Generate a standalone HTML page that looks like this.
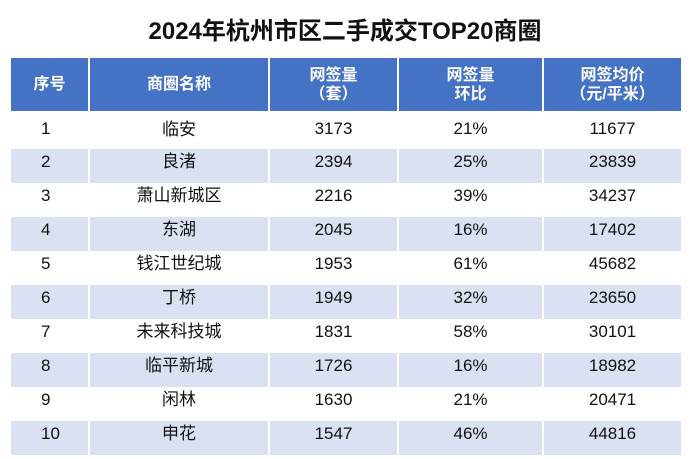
<!DOCTYPE html><html><head><meta charset="utf-8"><style>
body{margin:0;width:690px;height:459px;background:#fff;font-family:"Liberation Sans","Noto Sans CJK SC",sans-serif;overflow:hidden;position:relative}
.t{position:absolute;top:11px;left:0;width:690px;text-align:center;font-size:24px;font-weight:bold;color:#111}
table{position:absolute;left:9px;top:58px;border-collapse:collapse;table-layout:fixed}
td,th{padding:0;text-align:center;border-left:2px solid #fff;border-right:2px solid #fff}
th{background:#4472C4;color:#fff;font-size:16px;font-weight:bold;height:53px;line-height:19px}
td{font-size:17px;color:#111;height:34px;line-height:26px;vertical-align:top}
tr.s td{background:#D9E1F2}
</style></head><body>
<div class="t">2024年杭州市区二手成交TOP20商圈</div>
<table>
<colgroup><col style="width:79px"><col style="width:180px"><col style="width:129px"><col style="width:145px"><col style="width:139px"></colgroup>
<tr><th>序号</th><th>商圈名称</th><th>网签量<br>（套）</th><th>网签量<br>环比</th><th>网签均价<br>（元/平米）</th></tr>
<tr><td style="height:37px;line-height:36px;text-align:left;padding-left:30px">1</td><td style="line-height:38px">临安</td><td style="line-height:36px">3173</td><td style="line-height:36px">21%</td><td style="line-height:36px">11677</td></tr>
<tr class="s"><td style="text-align:left;padding-left:30px">2</td><td>良渚</td><td>2394</td><td>25%</td><td>23839</td></tr>
<tr><td style="text-align:left;padding-left:30px">3</td><td>萧山新城区</td><td>2216</td><td>39%</td><td>34237</td></tr>
<tr class="s"><td style="text-align:left;padding-left:30px">4</td><td>东湖</td><td>2045</td><td>16%</td><td>17402</td></tr>
<tr><td style="text-align:left;padding-left:30px">5</td><td>钱江世纪城</td><td>1953</td><td>61%</td><td>45682</td></tr>
<tr class="s"><td style="text-align:left;padding-left:30px">6</td><td>丁桥</td><td>1949</td><td>32%</td><td>23650</td></tr>
<tr><td style="text-align:left;padding-left:30px">7</td><td>未来科技城</td><td>1831</td><td>58%</td><td>30101</td></tr>
<tr class="s"><td style="text-align:left;padding-left:30px">8</td><td>临平新城</td><td>1726</td><td>16%</td><td>18982</td></tr>
<tr><td style="text-align:left;padding-left:30px">9</td><td>闲林</td><td>1630</td><td>21%</td><td>20471</td></tr>
<tr class="s"><td style="text-align:left;padding-left:30px">10</td><td>申花</td><td>1547</td><td>46%</td><td>44816</td></tr>
</table>
</body></html>
